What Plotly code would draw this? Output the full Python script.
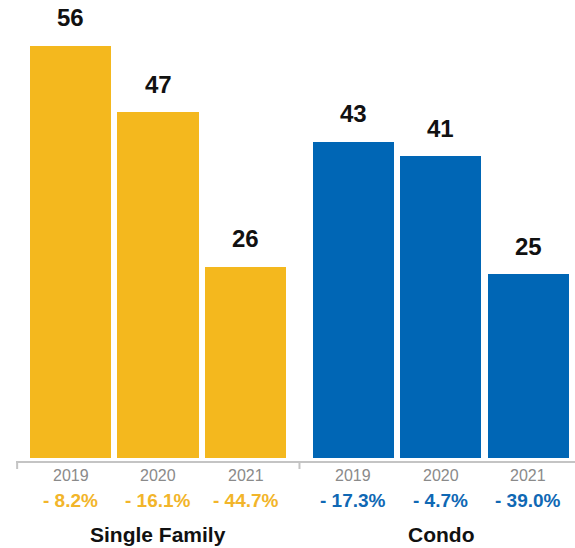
import plotly.graph_objects as go

# Data
groups = ["Single Family", "Condo"]
years = ["2019", "2020", "2021"]
single_family = [56, 47, 26]
condo = [43, 41, 25]
single_family_change = ["- 8.2%", "- 16.1%", "- 44.7%"]
condo_change = ["- 17.3%", "- 4.7%", "- 39.0%"]

values = [single_family, condo]
changes = [single_family_change, condo_change]
colors = ["#F4B81E", "#0066B5"]
text_colors = ["#F2B52A", "#0F68B4"]

GROUP_GAP = 0.234
BAR_WIDTH = 0.926
FONT = "Liberation Sans, Arial, Helvetica, sans-serif"

fig = go.Figure()
annotations = []

for g, (name, vals, chg) in enumerate(zip(groups, values, changes)):
    xs = [g * (len(years) + GROUP_GAP) + i for i in range(len(years))]
    fig.add_trace(go.Bar(
        x=xs, y=vals, width=BAR_WIDTH, name=name,
        marker=dict(color=colors[g], line=dict(width=0)),
        hoverinfo="skip", showlegend=False,
    ))
    for x, v, yr, c in zip(xs, vals, years, chg):
        # value label above the bar
        annotations.append(dict(
            x=x, y=v, xref="x", yref="y", text=f"<b>{v}</b>",
            showarrow=False, yanchor="middle", yshift=28,
            font=dict(family=FONT, size=24, color="#111111"),
        ))
        # year label under the axis
        annotations.append(dict(
            x=x, y=0, xref="x", yref="paper", text=yr,
            showarrow=False, yanchor="middle", yshift=-13,
            font=dict(family=FONT, size=16, color="#8a8a8a"),
        ))
        # percent change
        annotations.append(dict(
            x=x, y=0, xref="x", yref="paper", text=f"<b>{c}</b>",
            showarrow=False, yanchor="middle", yshift=-38,
            font=dict(family=FONT, size=19, color=text_colors[g]),
        ))
    # group title
    annotations.append(dict(
        x=xs[1], y=0, xref="x", yref="paper", text=f"<b>{name}</b>",
        showarrow=False, yanchor="middle", yshift=-72,
        font=dict(family=FONT, size=21, color="#111111"),
    ))

# axis baseline with short downward bracket ticks
line_color = "#c4c4c4"
shapes = [
    dict(type="line", xref="paper", yref="paper", x0=0, x1=1, y0=0, y1=0,
         line=dict(color=line_color, width=2)),
]
divider_x = [-0.61, (len(years) - 1) + (1 + GROUP_GAP) / 2]
for dx in divider_x:
    shapes.append(dict(type="line", xref="x", yref="paper", x0=dx, x1=dx,
                       ysizemode="pixel", yanchor=0, y0=0, y1=-7,
                       line=dict(color=line_color, width=2)))

fig.update_layout(
    width=575, height=548,
    margin=dict(l=16, r=0, t=0, b=86),
    paper_bgcolor="white", plot_bgcolor="white",
    xaxis=dict(range=[-0.623, 5.766], visible=False, fixedrange=True),
    yaxis=dict(range=[-0.544, 62.25], visible=False, fixedrange=True),
    annotations=annotations,
    shapes=shapes,
    bargap=0,
)

fig.write_html("out.html")
